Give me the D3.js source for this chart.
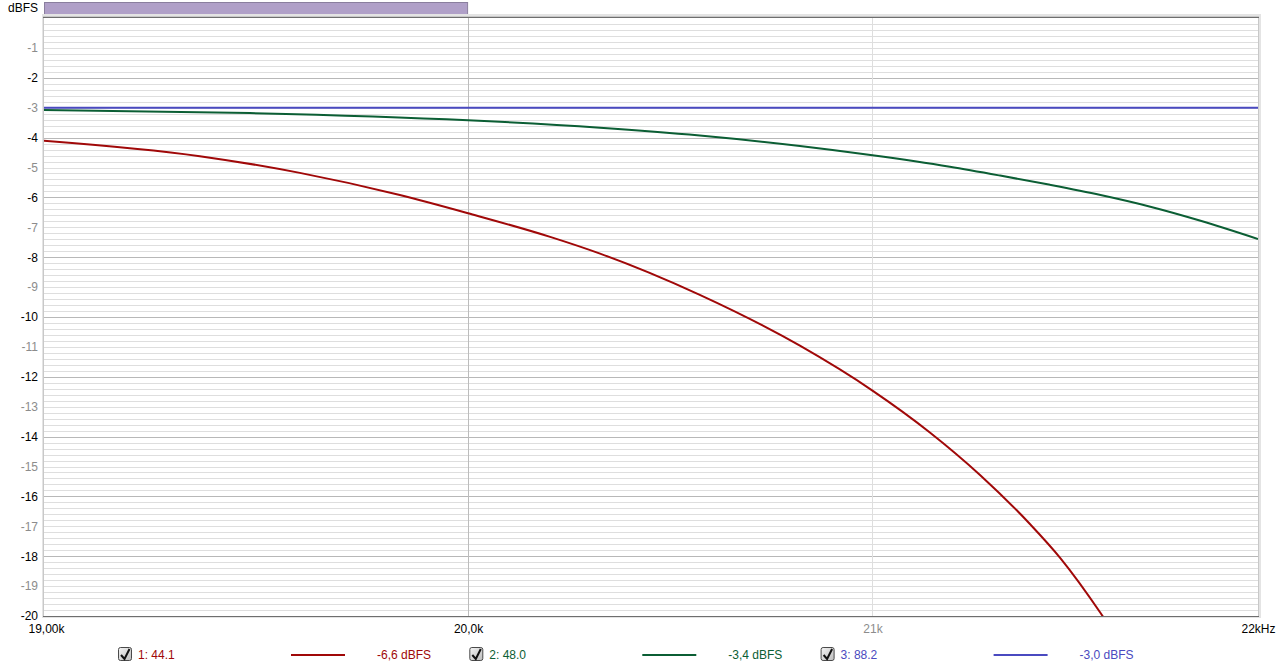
<!DOCTYPE html>
<html><head><meta charset="utf-8">
<script src="https://cdn.jsdelivr.net/npm/d3@7"></script>
<style>
html,body{margin:0;padding:0;background:#fff;}
svg{display:block;font-family:"Liberation Sans",Arial,sans-serif;}
</style></head>
<body><svg id="c" width="1280" height="669"></svg>
<script>
// ---- data ----
const redFreq   = [19000,19363,19598,19836,20000,20199,20321,20567,20817,21000,21146,21275,21404,21482,21586,21690];
const redDb     = [-4.10,-4.62,-5.18,-5.92,-6.53,-7.32,-7.88,-9.26,-10.96,-12.46,-13.86,-15.29,-16.94,-18.07,-19.90,-22.0];
const greenFreq = [19000,19480,20000,20321,20567,20817,21000,21197,21326,21455,21586,21716,21848,22000];
const greenDb   = [-3.08,-3.18,-3.42,-3.67,-3.93,-4.28,-4.59,-4.975,-5.27,-5.58,-5.92,-6.31,-6.78,-7.39];
const blueFreq  = [19000,20000,21000,22000];
const blueDb    = [-3.0,-3.0,-3.0,-3.0];
const yTicks    = [-1,-2,-3,-4,-5,-6,-7,-8,-9,-10,-11,-12,-13,-14,-15,-16,-17,-18,-19,-20];
const xTicks    = [19000,20000,21000,22000];
const xTickLabels = ["19,00k","20,0k","21k","22kHz"];
const legendNames = ["1: 44.1","2: 48.0","3: 88.2"];
const legendValues = ["-6,6 dBFS","-3,4 dBFS","-3,0 dBFS"];
const colors = ["#a00808","#0b5e34","#4a4ac0"];

const L=43,T=18,R=1258,B=616;
const svg=d3.select("#c");
const x=d3.scaleLog().domain([19000,22000]).range([L,R]);
const y=d3.scaleLinear().domain([0,-20]).range([T,B]);

// purple bar
svg.append("rect").attr("x",44.5).attr("y",2.5).attr("width",x(20000)-45).attr("height",12.5)
  .attr("fill","#b0a0c8").attr("stroke","#8a7f9e").attr("stroke-width",1);

// frame shading
svg.append("rect").attr("x",L-1).attr("y",T-4).attr("width",R-L+4).attr("height",B-T+6).attr("fill","#e4e4e4");
svg.append("rect").attr("x",L).attr("y",T-2).attr("width",R-L+1).attr("height",B-T+2).attr("fill","#c8c8c8");
svg.append("rect").attr("x",L+1).attr("y",T).attr("width",R-L-1).attr("height",B-T).attr("fill","#fff");

// minor grid
const minor=d3.range(1,100).map(i=>-i*0.2);
svg.append("g").selectAll("line").data(minor).join("line")
  .attr("x1",L+1).attr("x2",R).attr("y1",d=>Math.round(y(d))+0.5).attr("y2",d=>Math.round(y(d))+0.5)
  .attr("stroke",d=>{const r=Math.round(-d*5); return (r%10===0)?"#b8b8b8":"#dedede";})
  .attr("stroke-width",1);
// vertical grid
svg.append("line").attr("x1",Math.round(x(20000))+0.5).attr("x2",Math.round(x(20000))+0.5).attr("y1",T).attr("y2",B).attr("stroke","#bcbcbc");
svg.append("line").attr("x1",Math.round(x(21000))+0.5).attr("x2",Math.round(x(21000))+0.5).attr("y1",T).attr("y2",B).attr("stroke","#dedede");

// top/bottom dark edges
svg.append("line").attr("x1",L).attr("x2",R+1).attr("y1",T-0.5).attr("y2",T-0.5).attr("stroke","#6e6e6e");
svg.append("line").attr("x1",L).attr("x2",R+1).attr("y1",B+0.5).attr("y2",B+0.5).attr("stroke","#6e6e6e");

// curves
svg.append("clipPath").attr("id","clip").append("rect").attr("x",L+1).attr("y",T).attr("width",R-L-1).attr("height",B-T);
const line=d3.line().x(d=>x(d[0])).y(d=>y(d[1])).curve(d3.curveMonotoneX);
const series=[[redFreq,redDb],[greenFreq,greenDb],[blueFreq,blueDb]];
const gC=svg.append("g").attr("clip-path","url(#clip)");
series.forEach((s,i)=>{
  gC.append("path").datum(s[0].map((f,j)=>[f,s[1][j]])).attr("d",line)
    .attr("fill","none").attr("stroke",colors[i]).attr("stroke-width",2);
});

// y axis
const ya=svg.append("g").attr("transform",`translate(${L-4},0)`)
  .call(d3.axisLeft(y).tickValues(yTicks).tickSize(0).tickPadding(1).tickFormat(d=>String(d)));
ya.select(".domain").remove();
ya.selectAll("text").attr("font-size",12).attr("font-family","Liberation Sans, Arial, sans-serif")
  .attr("fill",d=>(Math.abs(d)%2===0)?"#000":"#8c8c8c");
svg.append("text").attr("x",38).attr("y",12).attr("text-anchor","end").attr("font-size",12).attr("fill","#000").text("dBFS");

// x axis
const xa=svg.append("g").attr("transform",`translate(0,${B+5})`)
  .call(d3.axisBottom(x).tickValues(xTicks).tickSize(0).tickPadding(3).tickFormat((d,i)=>xTickLabels[i]));
xa.select(".domain").remove();
xa.selectAll("text").attr("font-size",12).attr("font-family","Liberation Sans, Arial, sans-serif")
  .attr("fill",(d)=>d===21000?"#8c8c8c":"#000")
  .attr("text-anchor",(d)=>d===22000?"end":"middle")
  .attr("dx",(d)=>d===19000?3:(d===22000?17:0));

// legend
const defs=svg.append("defs");
const gr=defs.append("linearGradient").attr("id","cb").attr("x1",0).attr("y1",0).attr("x2",1).attr("y2",1);
gr.append("stop").attr("offset","0%").attr("stop-color","#f4f4f4");
gr.append("stop").attr("offset","100%").attr("stop-color","#bdbdbd");
const ly=655;
legendNames.forEach((n,i)=>{
  const ox=i*351.3;
  const g=svg.append("g").attr("transform",`translate(${ox},0)`);
  g.append("rect").attr("x",118.5).attr("y",ly-7.5).attr("width",13).attr("height",13).attr("rx",2)
    .attr("fill","url(#cb)").attr("stroke","#4a4a4a");
  g.append("path").attr("d",`M121,${ly} L124.5,${ly+4} L129.5,${ly-6}`).attr("fill","none").attr("stroke","#111").attr("stroke-width",2);
  g.append("text").attr("x",138).attr("y",ly+4).attr("font-size",12).attr("fill",colors[i]).text(n);
  g.append("line").attr("x1",291).attr("x2",345).attr("y1",ly).attr("y2",ly).attr("stroke",colors[i]).attr("stroke-width",2);
  g.append("text").attr("x",377).attr("y",ly+4).attr("font-size",12).attr("fill",colors[i]).text(legendValues[i]);
});
</script></body></html>
